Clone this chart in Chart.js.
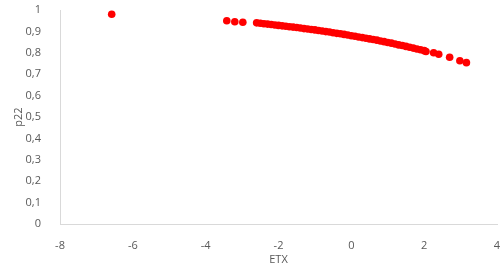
<!DOCTYPE html>
<html>
<head>
<meta charset="utf-8">
<script src="https://cdn.jsdelivr.net/npm/chart.js@4.4.0/dist/chart.umd.min.js"></script>
<style>
  html, body { margin: 0; padding: 0; background: #fff; }
  #wrap { width: 504px; height: 270px; }
</style>
</head>
<body>
<div id="wrap"><canvas id="chart" width="504" height="270"></canvas></div>
<script>
// values
const etx = [
    -6.58, -3.42, -3.2, -2.98,
    -2.6, -2.5, -2.4, -2.3, -2.2, -2.1, -2.0, -1.9, -1.8, -1.7, -1.6, -1.5,
    -1.4, -1.3, -1.2, -1.1, -1.0, -0.9, -0.8, -0.7, -0.6, -0.5, -0.4, -0.3,
    -0.2, -0.1, 0.0, 0.1, 0.2, 0.3, 0.4, 0.5, 0.6, 0.7, 0.8, 0.9, 1.0, 1.1,
    1.2, 1.3, 1.4, 1.5, 1.6, 1.7, 1.8, 1.9, 2.0, 2.05,
    2.26, 2.4, 2.7, 2.98, 3.16
];
const p22 = [
    0.980, 0.950, 0.945, 0.943,
    0.940, 0.938, 0.936, 0.934, 0.932, 0.930, 0.928, 0.926, 0.924, 0.922, 0.920, 0.918,
    0.916, 0.913, 0.911, 0.909, 0.907, 0.904, 0.902, 0.899, 0.897, 0.894, 0.891, 0.889,
    0.886, 0.883, 0.880, 0.877, 0.874, 0.871, 0.868, 0.865, 0.862, 0.859, 0.855, 0.852, 0.848, 0.845,
    0.841, 0.837, 0.834, 0.830, 0.826, 0.822, 0.818, 0.814, 0.810, 0.806,
    0.800, 0.793, 0.779, 0.763, 0.754
];
const xRange = [-8, 4];
const yRange = [0, 1];

const axisColor = '#d9d9d9';
const textColor = '#595959';
const font = { family: 'Open Sans', size: 11 };

// decimal comma like the original
const fmt = v => Number.isInteger(v) ? String(v) : v.toFixed(1).replace('.', ',');

const points = etx.map((x, i) => ({ x: x, y: p22[i] }));

new Chart(document.getElementById('chart').getContext('2d'), {
    type: 'scatter',
    data: {
        datasets: [{
            label: 'p22',
            data: points,
            backgroundColor: '#ff0000',
            borderColor: '#ff0000',
            pointRadius: 3.8,
            pointBorderWidth: 0
        }]
    },
    options: {
        responsive: false,
        animation: false,
        layout: { padding: { left: 8, right: 7, top: 10, bottom: 0 } },
        plugins: {
            legend: { display: false },
            tooltip: { enabled: false }
        },
        scales: {
            x: {
                type: 'linear',
                min: xRange[0],
                max: xRange[1],
                grid: { display: false },
                border: { color: axisColor, width: 1 },
                ticks: { stepSize: 2, color: textColor, font: font, padding: 7, callback: fmt },
                title: { display: true, text: 'ETX', color: textColor, font: font, padding: { top: 9 } },
                afterFit: s => { s.height = 46; s.paddingLeft = 0; s.paddingRight = 0; }
            },
            y: {
                min: yRange[0],
                max: yRange[1],
                grid: { display: false },
                border: { color: axisColor, width: 1 },
                ticks: { stepSize: 0.1, color: textColor, font: font, padding: 11, callback: fmt },
                title: { display: true, text: 'p22', color: textColor, font: font },
                afterFit: s => { s.width = 52; s.paddingTop = 0; s.paddingBottom = 0; }
            }
        }
    }
});
</script>
</body>
</html>
